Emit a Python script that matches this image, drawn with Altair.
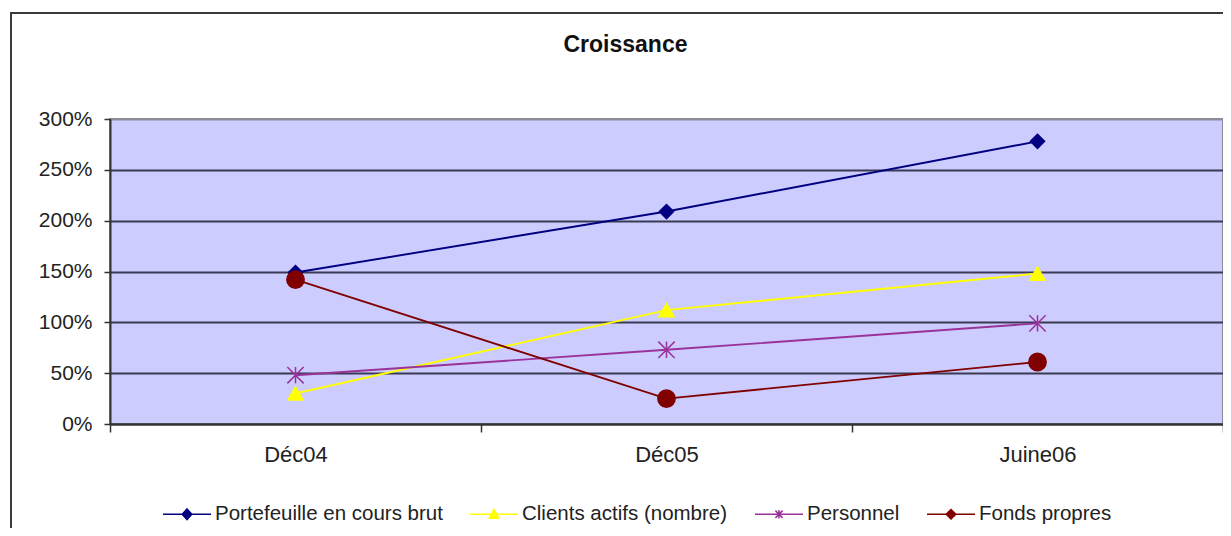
import altair as alt
import pandas as pd

categories = ["Déc04", "Déc05", "Juine06"]
series = ["Portefeuille en cours brut", "Clients actifs (nombre)", "Personnel", "Fonds propres"]
portefeuille = [149, 209, 278]
clients = [30, 112, 148]
personnel = [48, 73, 99]
fonds = [142, 25, 61]
y_ticks = [0, 50, 100, 150, 200, 250, 300]

colors = ["#000080", "#FFFF00", "#993399", "#800000"]
point_shapes = ["diamond", "triangle-up", "M-1,-1L1,1M-1,1L1,-1M0,-1L0,1", "circle"]
point_sizes = [200, 300, 230, 330]
legend_shapes = [
    "M-1,0L1,0M0,-0.22L0.2,0L0,0.22L-0.2,0Z",
    "M-1,0L1,0M0,-0.2L0.2,0.17L-0.2,0.17Z",
    "M-1,0L1,0M-0.15,-0.15L0.15,0.15M-0.15,0.15L0.15,-0.15M0,-0.18L0,0.18",
    "M-1,0L1,0M0,-0.2L0.2,0L0,0.2L-0.2,0Z",
]

rows = []
for s, vals in zip(series, [portefeuille, clients, personnel, fonds]):
    for c, v in zip(categories, vals):
        rows.append({"Catégorie": c, "Série": s, "Valeur": v})
df = pd.DataFrame(rows)

FONT = "Liberation Sans"

x_enc = alt.X(
    "Catégorie:N",
    sort=categories,
    scale=alt.Scale(domain=categories, paddingInner=0, paddingOuter=0),
    axis=alt.Axis(
        title=None, labelAngle=0, labelFontSize=22, labelColor="#222222",
        labelFont=FONT, tickBand="extent", tickSize=8,
        tickColor="#333333", tickWidth=1.5, domainColor="#333333", domainWidth=2,
        labelPadding=12, grid=False,
    ),
)
y_enc = alt.Y(
    "Valeur:Q",
    scale=alt.Scale(domain=[0, 300], nice=False),
    axis=alt.Axis(
        title=None, values=y_ticks, labelExpr="datum.value + '%'",
        labelFontSize=21, labelColor="#222222", labelFont=FONT,
        tickSize=6, tickColor="#333333", tickWidth=1.5,
        domainColor="#333333", domainWidth=2, labelPadding=12,
        grid=True,
        gridColor={"condition": {"test": "datum.value >= 300", "value": "#8c8c99"}, "value": "#3a3a55"},
        gridWidth=2,
    ),
)
color_scale = alt.Scale(domain=series, range=colors)

lines = alt.Chart(df).mark_line(strokeWidth=1.9).encode(
    x=x_enc, y=y_enc,
    color=alt.Color("Série:N", scale=color_scale, legend=None),
)

points = alt.Chart(df).mark_point(filled=True, opacity=1, strokeWidth=1.5).encode(
    x=x_enc, y=y_enc,
    color=alt.Color("Série:N", scale=color_scale, legend=None),
    stroke=alt.Stroke("Série:N", scale=color_scale, legend=None),
    shape=alt.Shape("Série:N", scale=alt.Scale(domain=series, range=point_shapes), legend=None),
    size=alt.Size("Série:N", scale=alt.Scale(domain=series, range=point_sizes), legend=None),
)

legend_layer = alt.Chart(df).mark_point(filled=True, opacity=1).encode(
    x=x_enc, y=y_enc,
    color=alt.Color("Série:N", scale=color_scale, legend=alt.Legend(title=None)),
    stroke=alt.Stroke("Série:N", scale=color_scale, legend=alt.Legend(title=None)),
    shape=alt.Shape("Série:N", scale=alt.Scale(domain=series, range=legend_shapes),
                    legend=alt.Legend(title=None)),
).transform_filter("false")

border = alt.Chart(pd.DataFrame({"a": [0]})).mark_rect(
    fill="transparent", stroke="#3a3a3a", strokeWidth=2, clip=False
).encode(x=alt.value(-99), x2=alt.value(1130), y=alt.value(-106), y2=alt.value(440))

chart = alt.layer(border, lines, points, legend_layer).resolve_scale(
    color="independent", stroke="independent", shape="independent", size="independent"
).properties(
    width=1113, height=305,
    background="white",
    title=alt.TitleParams("Croissance", fontSize=23, font=FONT, fontWeight="bold",
                          color="#111111", anchor="middle", offset=-45, dx=-41),
    autosize=alt.AutoSizeParams(type="none"),
    padding={"left": 102, "top": 111, "right": 0, "bottom": 104},
).configure_view(
    fill="#CCCCFF", stroke="#8c8c99", strokeWidth=2
).configure_legend(
    orient="none", legendX=52, legendY=370, direction="horizontal",
    symbolSize=2304, symbolStrokeWidth=1.5, labelFontSize=20.5,
    labelFont=FONT, labelColor="#222222", columnPadding=24,
    labelOffset=3, symbolType="circle", labelLimit=400,
)

chart.save("out.html", embed_options={"renderer": "svg", "actions": False})
